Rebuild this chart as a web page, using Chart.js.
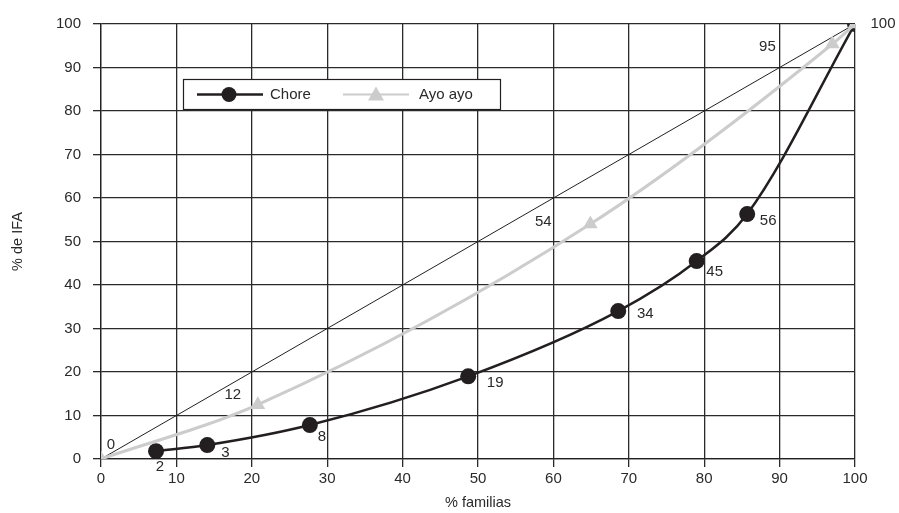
<!DOCTYPE html>
<html lang="es">
<head>
  <meta charset="UTF-8" />
  <title>Curva de concentración IFA</title>
  <style>
    html, body { margin: 0; padding: 0; background: #fff; }
    #wrap { width: 899px; height: 513px; position: relative; }
  </style>
</head>
<body>
  <div id="wrap"><canvas id="chart" width="899" height="513"></canvas></div>

  <script src="https://cdn.jsdelivr.net/npm/chart.js@4.4.0/dist/chart.umd.min.js"></script>
  <script>
    // datos
    const seriesNames = ['Chore', 'Ayo ayo'];
    const choreX = [7.3, 14.1, 27.7, 48.7, 68.6, 79, 85.7, 100];
    const choreY = [1.8, 3.2, 7.8, 19, 34, 45.5, 56.3, 100];
    const choreLabels = ['2', '3', '8', '19', '34', '45', '56', '100'];
    const ayoX = [0, 20.8, 64.9, 97, 100];
    const ayoY = [0, 12.5, 54, 95.4, 100];
    const ayoLabels = ['0', '12', '54', '95', ''];
    const equalityX = [0, 100];
    const equalityY = [0, 100];
    const axisTicks = [0, 10, 20, 30, 40, 50, 60, 70, 80, 90, 100];

    // desplazamiento de las etiquetas (px)
    const choreOffsets = [[4, 16], [18, 8], [12, 12], [27, 7], [27, 3], [18, 11], [21, 7], [28, 0]];
    const ayoOffsets = [[10, -14], [-25, -10], [-47, -2], [-65, 3], [0, 0]];

    const FONT = '"Liberation Sans", Arial, sans-serif';
    const INK = '#231f20';
    const TXT = '#2a2a2a';
    const GREY = '#cccccc';

    const toPoints = (xs, ys) => xs.map((x, i) => ({ x: x, y: ys[i] }));

    const pointLabels = {
      id: 'pointLabels',
      afterDatasetsDraw(chart) {
        const ctx = chart.ctx;
        ctx.save();
        ctx.font = '15px ' + FONT;
        ctx.fillStyle = TXT;
        ctx.textAlign = 'center';
        ctx.textBaseline = 'middle';
        chart.data.datasets.forEach((ds, di) => {
          if (!ds.labelTexts) return;
          const meta = chart.getDatasetMeta(di);
          meta.data.forEach((el, i) => {
            const t = ds.labelTexts[i];
            if (!t) return;
            const off = ds.labelOffsets[i];
            ctx.fillText(t, el.x + off[0], el.y + off[1]);
          });
        });
        ctx.restore();
      }
    };

    const boxLegend = {
      id: 'boxLegend',
      afterDraw(chart) {
        const ctx = chart.ctx;
        const x0 = 183, y0 = 79, w = 317, h = 30;
        ctx.save();
        ctx.fillStyle = '#fff';
        ctx.fillRect(x0, y0, w, h);
        ctx.strokeStyle = INK;
        ctx.lineWidth = 1.2;
        ctx.strokeRect(x0 + 0.5, y0 + 0.5, w, h);
        const cy = y0 + h / 2 + 0.5;
        // Chore
        ctx.strokeStyle = INK;
        ctx.lineWidth = 2.5;
        ctx.beginPath(); ctx.moveTo(197, cy); ctx.lineTo(263, cy); ctx.stroke();
        ctx.fillStyle = INK;
        ctx.beginPath(); ctx.arc(229, cy, 7.5, 0, Math.PI * 2); ctx.fill();
        // Ayo ayo
        ctx.strokeStyle = GREY;
        ctx.lineWidth = 2;
        ctx.beginPath(); ctx.moveTo(343, cy); ctx.lineTo(409, cy); ctx.stroke();
        ctx.fillStyle = GREY;
        ctx.beginPath();
        ctx.moveTo(376, cy - 8); ctx.lineTo(384, cy + 6); ctx.lineTo(368, cy + 6);
        ctx.closePath(); ctx.fill();
        ctx.font = '15px ' + FONT;
        ctx.fillStyle = TXT;
        ctx.textBaseline = 'middle';
        ctx.fillText(seriesNames[0], 270, cy);
        ctx.fillText(seriesNames[1], 419, cy);
        ctx.restore();
      }
    };

    new Chart(document.getElementById('chart'), {
      type: 'scatter',
      data: {
        datasets: [
          {
            label: seriesNames[1],
            data: toPoints(ayoX, ayoY),
            showLine: true,
            borderColor: GREY,
            backgroundColor: GREY,
            borderWidth: 3,
            pointStyle: 'triangle',
            pointRadius: 8.5,
            pointBorderWidth: 0,
            cubicInterpolationMode: 'monotone',
            labelTexts: ayoLabels,
            labelOffsets: ayoOffsets,
            order: 0
          },
          {
            label: seriesNames[0],
            data: toPoints(choreX, choreY),
            showLine: true,
            borderColor: INK,
            backgroundColor: INK,
            borderWidth: 2.5,
            pointStyle: 'circle',
            pointRadius: 8,
            pointBorderWidth: 0,
            cubicInterpolationMode: 'monotone',
            labelTexts: choreLabels,
            labelOffsets: choreOffsets,
            order: 1
          },
          {
            label: 'igualdad',
            data: toPoints(equalityX, equalityY),
            showLine: true,
            borderColor: INK,
            borderWidth: 1,
            pointRadius: 0,
            order: 2
          }
        ]
      },
      options: {
        responsive: false,
        animation: false,
        events: [],
        layout: { padding: { top: 24, right: 44, left: 0, bottom: 0 } },
        plugins: { legend: { display: false }, tooltip: { enabled: false } },
        scales: {
          x: {
            type: 'linear', min: 0, max: 100,
            afterBuildTicks: s => { s.ticks = axisTicks.map(v => ({ value: v })); },
            afterFit: s => { s.height = 54; },
            grid: { color: '#2a2a2a', lineWidth: 1.3, tickLength: 8, drawTicks: true },
            border: { color: '#222', width: 1.3 },
            ticks: { color: TXT, font: { family: FONT, size: 15 }, padding: 3, maxRotation: 0 },
            title: { display: true, text: '% familias', color: TXT, font: { family: FONT, size: 14.5 }, padding: { top: 0, bottom: 1 } }
          },
          y: {
            type: 'linear', min: 0, max: 100,
            afterBuildTicks: s => { s.ticks = axisTicks.map(v => ({ value: v })); },
            afterFit: s => { s.width = 101; },
            grid: { color: '#2a2a2a', lineWidth: 1.3, tickLength: 8, drawTicks: true },
            border: { color: '#222', width: 1.3 },
            ticks: { color: TXT, font: { family: FONT, size: 15 }, padding: 12 },
            title: { display: true, text: '% de IFA', color: TXT, font: { family: FONT, size: 14.5 }, padding: { top: 9, bottom: 0 } }
          }
        }
      },
      plugins: [pointLabels, boxLegend]
    });
  </script>
</body>
</html>
